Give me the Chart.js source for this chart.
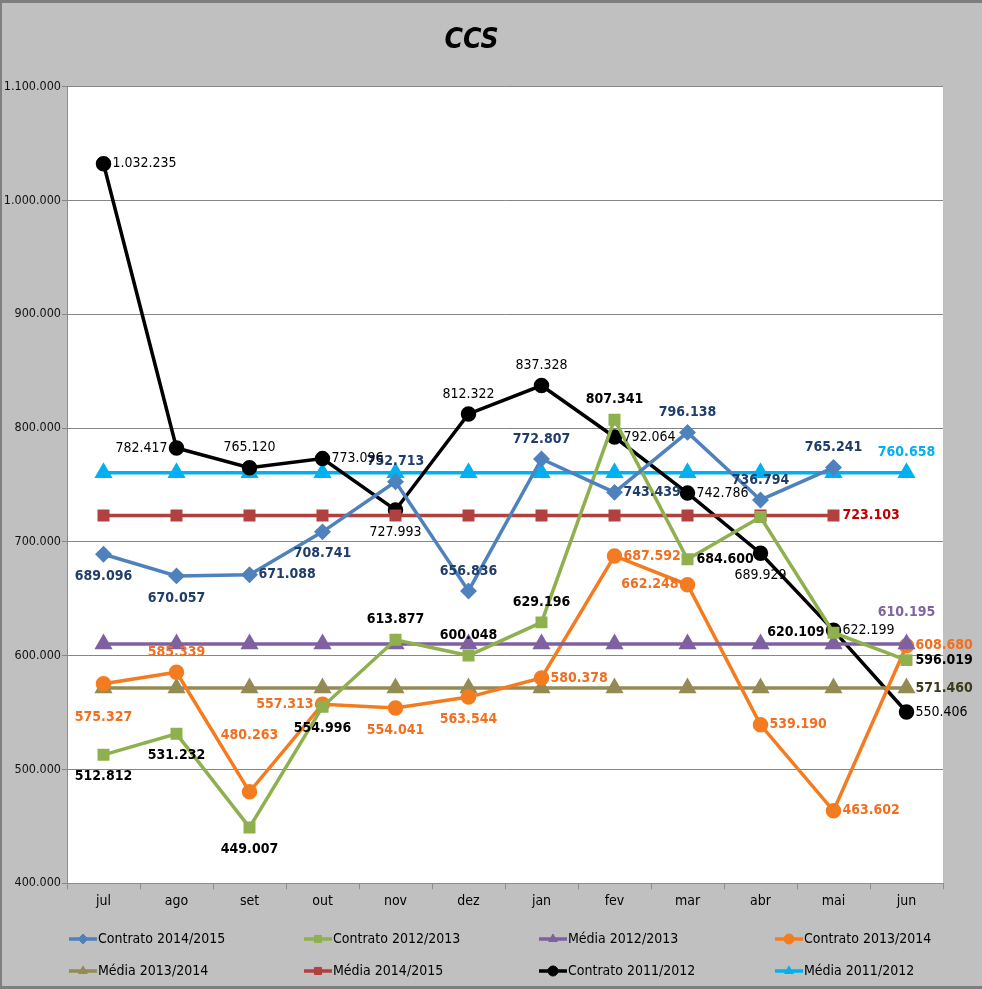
<!DOCTYPE html>
<html>
<head>
<meta charset="utf-8">
<script src="https://cdn.jsdelivr.net/npm/chart.js@4.4.1/dist/chart.umd.min.js"></script>
<style>
  html, body { margin: 0; padding: 0; background: #c0c0c0; }
  #wrap { width: 982px; height: 989px; position: relative; }
</style>
</head>
<body>
<div id="wrap"><canvas id="ccsChart" width="982" height="989"></canvas></div>
<script>
const months = ["jul", "ago", "set", "out", "nov", "dez", "jan", "fev", "mar", "abr", "mai", "jun"];

const contrato1415 = [689096, 670057, 671088, 708741, 752713, 656836, 772807, 743439, 796138, 736794, 765241, null];
const contrato1213 = [512812, 531232, 449007, 554996, 613877, 600048, 629196, 807341, 684600, 721800, 620109, 596019];
const media1213 = [610195, 610195, 610195, 610195, 610195, 610195, 610195, 610195, 610195, 610195, 610195, 610195];
const contrato1314 = [575327, 585339, 480263, 557313, 554041, 563544, 580378, 687592, 662248, 539190, 463602, 608680];
const media1314 = [571460, 571460, 571460, 571460, 571460, 571460, 571460, 571460, 571460, 571460, 571460, 571460];
const media1415 = [723103, 723103, 723103, 723103, 723103, 723103, 723103, 723103, 723103, 723103, 723103, null];
const contrato1112 = [1032235, 782417, 765120, 773096, 727993, 812322, 837328, 792064, 742786, 689929, 622199, 550406];
const media1112 = [760658, 760658, 760658, 760658, 760658, 760658, 760658, 760658, 760658, 760658, 760658, 760658];

const yTicks = [400000, 500000, 600000, 700000, 800000, 900000, 1000000, 1100000];

const FONT = "'DejaVu Sans Condensed', 'Liberation Sans Narrow', sans-serif";

function fmt(v) {
  return String(v).replace(/\B(?=(\d{3})+(?!\d))/g, ".");
}

// where each value label sits relative to its point (null = no label)
const placeBlue = ["below", "below", "right", "below", "above", "above", "above", "right", "above", "above", "above", null];
const placeGreen = ["below", "below", "below", "below", "above", "above", "above", "above", "right", null, "left", "right"];
const placeOrange = ["farBelow", "above", "highAbove", "left", "below", "below", "right", "right", "left", "right", "right", "right"];
const placeBlack = ["right", "left", "above", "right", "below", "above", "above", "right", "right", "below", "right", "right"];
const lastOnly = (pos, n) => months.map((m, i) => (i === n ? pos : null));

const markerSize = { rectRot: 6, rect: 6, triangle: 7, circle: 6 };

const labelOffsets = { above: -20, farAbove: -32, highAbove: -57, below: 22, farBelow: 34 };

function series(label, data, color, style, labelColor, bold, places) {
  return {
    label,
    data,
    borderColor: color,
    backgroundColor: color,
    pointBackgroundColor: color,
    pointBorderColor: color,
    pointStyle: style,
    pointRadius: markerSize[style],
    pointHoverRadius: markerSize[style],
    borderWidth: 3.5,
    tension: 0,
    spanGaps: false,
    labelColor,
    labelBold: bold,
    labelPlaces: places,
  };
}

const datasets = [
  series("Contrato 2014/2015", contrato1415, "#4f81bd", "rectRot", "#1f3d6b", true, placeBlue),
  series("Contrato 2012/2013", contrato1213, "#8fb04e", "rect", "#000000", true, placeGreen),
  series("Média 2012/2013", media1213, "#7f60a0", "triangle", "#8064a2", true, lastOnly("farAbove", 11)),
  series("Contrato 2013/2014", contrato1314, "#f47c20", "circle", "#f07020", true, placeOrange),
  series("Média 2013/2014", media1314, "#948a54", "triangle", "#3b3a1c", true, lastOnly("right", 11)),
  series("Média 2014/2015", media1415, "#b0413e", "rect", "#c00000", true, lastOnly("right", 10)),
  series("Contrato 2011/2012", contrato1112, "#000000", "circle", "#000000", false, placeBlack),
  series("Média 2011/2012", media1112, "#00b0f0", "triangle", "#00b0f0", true, lastOnly("above", 11)),
];

// white plot area + outer frame
const backdrop = {
  id: "backdrop",
  beforeDraw(chart) {
    const { ctx, chartArea: a } = chart;
    ctx.save();
    ctx.fillStyle = "#ffffff";
    ctx.fillRect(a.left, a.top, a.right - a.left, a.bottom - a.top);
    ctx.fillStyle = "#7f7f7f";
    ctx.fillRect(0, 0, chart.width, 3);
    ctx.fillRect(0, 0, 2, chart.height);
    ctx.fillRect(0, chart.height - 3, chart.width, 3);
    ctx.restore();
  },
};

// value labels next to the points
const valueLabels = {
  id: "valueLabels",
  afterDatasetsDraw(chart) {
    const { ctx } = chart;
    ctx.save();
    chart.data.datasets.forEach((ds, di) => {
      const meta = chart.getDatasetMeta(di);
      ctx.fillStyle = ds.labelColor;
      ctx.font = (ds.labelBold ? "bold " : "") + "14px " + FONT;
      meta.data.forEach((pt, i) => {
        const place = ds.labelPlaces[i];
        const v = ds.data[i];
        if (!place || v == null) return;
        let x = pt.x, y = pt.y;
        ctx.textAlign = "center";
        ctx.textBaseline = "middle";
        if (place === "right") { ctx.textAlign = "left"; x += 9; }
        else if (place === "left") { ctx.textAlign = "right"; x -= 9; }
        else { y += labelOffsets[place]; }
        ctx.fillText(fmt(v), x, y);
      });
    });
    ctx.restore();
  },
};

// legend in a 4 x 2 grid under the axis
const gridLegend = {
  id: "gridLegend",
  afterDraw(chart) {
    const { ctx } = chart;
    const cols = [69, 304, 539, 775];
    const rows = [939, 971];
    ctx.save();
    ctx.font = "14px " + FONT;
    ctx.textBaseline = "middle";
    ctx.textAlign = "left";
    chart.data.datasets.forEach((ds, i) => {
      const x = cols[i % 4];
      const y = rows[Math.floor(i / 4)];
      ctx.strokeStyle = ds.borderColor;
      ctx.lineWidth = 3.5;
      ctx.beginPath();
      ctx.moveTo(x, y);
      ctx.lineTo(x + 28, y);
      ctx.stroke();
      ctx.fillStyle = ds.borderColor;
      ctx.lineWidth = 1;
      Chart.helpers.drawPoint(ctx, { pointStyle: ds.pointStyle, radius: 5, borderWidth: 1 }, x + 14, y);
      ctx.fillStyle = "#000000";
      ctx.fillText(ds.label, x + 29, y);
    });
    ctx.restore();
  },
};

new Chart(document.getElementById("ccsChart").getContext("2d"), {
  type: "line",
  data: { labels: months, datasets },
  options: {
    responsive: false,
    animation: false,
    layout: { padding: { left: 0, right: 39, top: 0, bottom: 75 } },
    plugins: {
      legend: { display: false },
      tooltip: { enabled: false },
      title: {
        display: true,
        text: "CCS",
        color: "#000000",
        font: { family: FONT, size: 28, weight: "bold", style: "italic" },
        padding: { top: 24, bottom: 29 },
      },
    },
    scales: {
      x: {
        offset: true,
        grid: { offset: true, drawOnChartArea: false, color: "#8c8c8c", tickLength: 6 },
        border: { color: "#8c8c8c", width: 1 },
        ticks: { color: "#000000", font: { family: FONT, size: 14 }, padding: 4 },
      },
      y: {
        min: 400000,
        max: 1100000,
        afterBuildTicks(axis) { axis.ticks = yTicks.map((v) => ({ value: v })); },
        afterFit(axis) { axis.width = 67; },
        grid: { color: "#868686", tickLength: 5 },
        border: { color: "#8c8c8c", width: 1 },
        ticks: { color: "#111111", font: { family: FONT, size: 12.5 }, padding: 1, callback: (v) => fmt(v) },
      },
    },
  },
  plugins: [backdrop, valueLabels, gridLegend],
});
</script>
</body>
</html>
